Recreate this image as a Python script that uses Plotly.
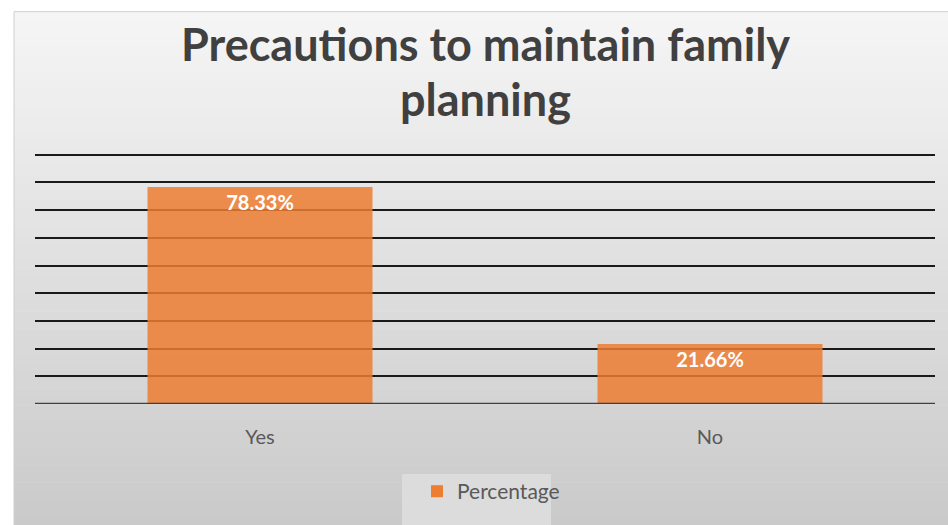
import plotly.graph_objects as go

categories = ["Yes", "No"]
percentages = [0.7833, 0.2166]
labels = ["78.33%", "21.66%"]
series_name = "Percentage"
title_lines = ["Precautions to maintain family", "planning"]

W, H = 948, 525
base_px = 404          # y pixel of value 0
top_grid_px = 155      # y pixel of value 0.9
y_max = 0.91
k = (base_px - top_grid_px) / 0.9
L, R = 35, 13
B = H - base_px
T = base_px - y_max * k
pw = W - L - R
ph = H - T - B

def px_to_paper_x(px):
    return (px - L) / pw

def px_to_paper_y(py):
    return (H - B - py) / ph

fig = go.Figure()
fig.add_trace(go.Bar(
    x=categories, y=percentages, name=series_name,
    text=labels, textposition="inside", insidetextanchor="end",
    textfont=dict(family="Lato", size=20, color="white", weight="bold"),
    marker=dict(color="#ED7D31", opacity=0.85, line=dict(width=0)),
    showlegend=True,
))

# gradient background
shapes = []
n = 60
top_px, bot_px = 12, H
c_top = (245, 245, 245)
c_bot = (202, 202, 202)
for i in range(n):
    y0 = top_px + (bot_px - top_px) * i / n
    y1 = top_px + (bot_px - top_px) * (i + 1) / n
    t = i / (n - 1)
    c = tuple(int(round(a + (b - a) * t)) for a, b in zip(c_top, c_bot))
    shapes.append(dict(type="rect", xref="paper", yref="paper", layer="below",
                       x0=px_to_paper_x(14), x1=px_to_paper_x(W + 2),
                       y0=px_to_paper_y(y1 + 0.5), y1=px_to_paper_y(y0),
                       fillcolor="rgb(%d,%d,%d)" % c, line=dict(width=0)))
shapes.append(dict(type="rect", xref="paper", yref="paper", layer="below",
                   x0=px_to_paper_x(14), x1=px_to_paper_x(W + 2),
                   y0=px_to_paper_y(H + 2), y1=px_to_paper_y(12),
                   fillcolor="rgba(0,0,0,0)", line=dict(color="#cfcfcf", width=1)))
# legend box background
shapes.append(dict(type="rect", xref="paper", yref="paper", layer="below",
                   x0=px_to_paper_x(402), x1=px_to_paper_x(551),
                   y0=px_to_paper_y(H + 2), y1=px_to_paper_y(474),
                   fillcolor="#dcdcdc", line=dict(width=0)))
# baseline
shapes.append(dict(type="line", xref="paper", yref="y", layer="above",
                   x0=0, x1=1, y0=0, y1=0, line=dict(color="#404040", width=2.5)))

annotations = [
    dict(text=title_lines[0], xref="paper", yref="paper", x=px_to_paper_x(485),
         y=px_to_paper_y(44), xanchor="center", yanchor="middle", showarrow=False,
         font=dict(family="Lato", size=45, color="#404040", weight="bold")),
    dict(text=title_lines[1], xref="paper", yref="paper", x=px_to_paper_x(485),
         y=px_to_paper_y(99), xanchor="center", yanchor="middle", showarrow=False,
         font=dict(family="Lato", size=45, color="#404040", weight="bold")),
]

fig.update_layout(
    width=W, height=H,
    margin=dict(l=L, r=R, t=T, b=B),
    paper_bgcolor="white",
    plot_bgcolor="rgba(0,0,0,0)",
    shapes=shapes,
    annotations=annotations,
    bargap=0.5,
    xaxis=dict(showgrid=False, showline=False, ticks="", ticklabelstandoff=19,
               tickfont=dict(family="Lato", size=20, color="#595959")),
    yaxis=dict(range=[0, y_max], dtick=0.1, showticklabels=False, showgrid=True,
               gridcolor="#1a1a1a", gridwidth=1.5, zeroline=False, showline=False),
    legend=dict(orientation="h", x=px_to_paper_x(417), xanchor="left",
                y=px_to_paper_y(471), yanchor="top", bgcolor="rgba(0,0,0,0)",
                font=dict(family="Lato", size=21, color="#595959"),
                itemwidth=30),
)
fig.write_html("out.html", config={"displayModeBar": False},
               post_script="document.body.style.margin='0';document.body.style.overflow='hidden';")
